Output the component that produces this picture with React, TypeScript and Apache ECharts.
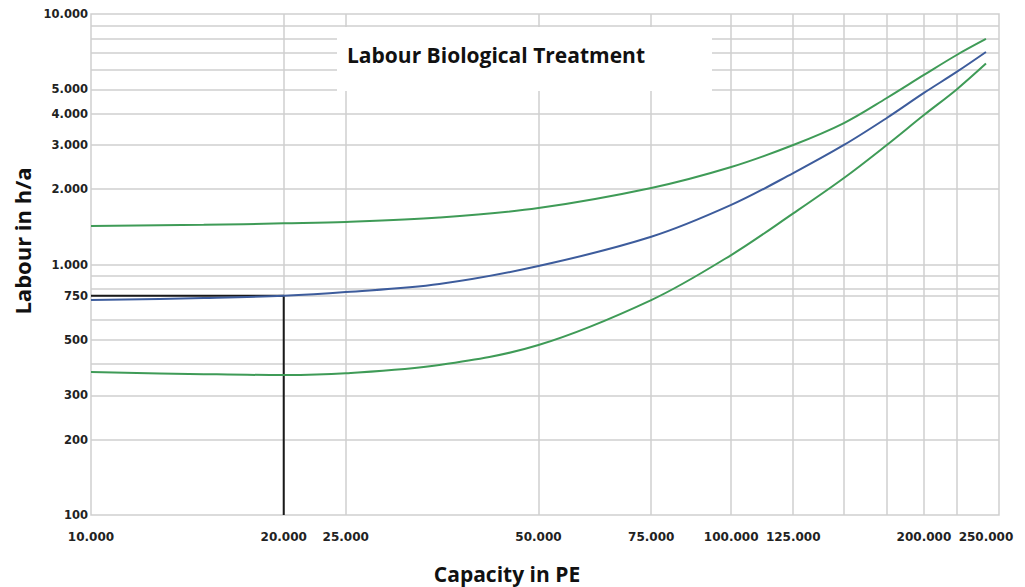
import React, { useEffect, useRef } from 'react';
import * as echarts from 'echarts';

// Capacity in PE (x) and labour in h/a (y)
const capacity = [10000, 15000, 20000, 25000, 35000, 50000, 75000, 100000, 125000, 150000, 175000, 200000, 225000, 250000];
const labourMean = [721, 735, 750, 776, 836, 986, 1290, 1729, 2317, 3000, 3845, 4840, 5870, 7050];
const labourUpper = [1425, 1440, 1460, 1478, 1540, 1680, 2020, 2450, 3000, 3670, 4620, 5710, 6860, 7950];
const labourLower = [372, 365, 362, 368, 397, 477, 721, 1091, 1600, 2215, 3000, 3950, 5000, 6340];

// Reading example: 20.000 PE -> 750 h/a
const refCapacity = 20000;
const refLabour = 750;

// Axis ranges
const xMin = 10000;
const xMax = 262000;
const yMin = 100;
const yMax = 10000;

// Grid lines and tick labels
const xGridValues = [20000, 25000, 50000, 75000, 100000, 125000, 150000, 175000, 200000, 225000];
const xTickLabels = [10000, 20000, 25000, 50000, 75000, 100000, 125000, 200000, 250000];
const yGridValues = [200, 300, 400, 500, 600, 750, 800, 900, 1000, 2000, 3000, 4000, 5000, 6000, 7000, 8000, 9000];
const yTickLabels = [100, 200, 300, 500, 750, 1000, 2000, 3000, 4000, 5000, 10000];

const titleText = 'Labour Biological Treatment';
const xName = 'Capacity in PE';
const yName = 'Labour in h/a';

const fmt = (v: number) => String(Math.round(v)).replace(/\B(?=(\d{3})+(?!\d))/g, '.');

const GRID_COLOR = '#cfcfcf';
const LABEL_FONT = '"DejaVu Sans", Verdana, sans-serif';
const TITLE_FONT = '"Open Sans", "Noto Sans", sans-serif';

export default function App() {
  const ref = useRef<HTMLDivElement>(null);

  useEffect(() => {
    if (!ref.current) return;
    const chart = echarts.init(ref.current, undefined, { renderer: 'svg' });

    const xValues = Array.from(new Set([...xGridValues, ...xTickLabels])).sort((a, b) => a - b);
    const xMarks = xValues.map((v) => ({
      xAxis: v,
      lineStyle: { color: xGridValues.includes(v) ? GRID_COLOR : 'rgba(0,0,0,0)' },
      label: { show: xTickLabels.includes(v) },
    }));
    const yValues = Array.from(new Set([...yGridValues, ...yTickLabels])).sort((a, b) => a - b);
    const yMarks = yValues.map((v) => ({
      yAxis: v,
      lineStyle: { color: yGridValues.includes(v) ? GRID_COLOR : 'rgba(0,0,0,0)' },
      label: { show: yTickLabels.includes(v) },
    }));

    const zip = (ys: number[]) => capacity.map((c, i) => [c, ys[i]]);

    const curve = (name: string, ys: number[], color: string) => ({
      name,
      type: 'line',
      data: zip(ys),
      smooth: 0.35,
      showSymbol: false,
      symbol: 'none',
      z: 10,
      lineStyle: { color, width: 2 },
      itemStyle: { color },
    });

    chart.setOption({
      animation: false,
      backgroundColor: '#ffffff',
      grid: {
        left: 91,
        right: 26,
        top: 14,
        bottom: 72,
        show: true,
        borderColor: GRID_COLOR,
        borderWidth: 1.5,
        backgroundColor: 'transparent',
      },
      xAxis: {
        type: 'log',
        logBase: 10,
        min: xMin,
        max: xMax,
        axisLine: { show: false },
        axisTick: { show: false },
        axisLabel: { show: false },
        splitLine: { show: false },
      },
      yAxis: {
        type: 'log',
        logBase: 10,
        min: yMin,
        max: yMax,
        axisLine: { show: false },
        axisTick: { show: false },
        axisLabel: { show: false },
        splitLine: { show: false },
      },
      graphic: [
        {
          type: 'rect',
          z: 50,
          shape: { x: 337, y: 27, width: 375, height: 64 },
          style: { fill: '#ffffff' },
        },
        {
          type: 'text',
          z: 51,
          x: 496,
          y: 55,
          style: {
            text: titleText,
            fill: '#111111',
            fontFamily: TITLE_FONT,
            fontWeight: 'bold',
            fontSize: 21,
            align: 'center',
            verticalAlign: 'middle',
          },
        },
        {
          type: 'text',
          z: 51,
          x: 22,
          y: 241,
          rotation: Math.PI / 2,
          style: {
            text: yName,
            fill: '#111111',
            fontFamily: TITLE_FONT,
            fontWeight: 'bold',
            fontSize: 22,
            align: 'center',
            verticalAlign: 'middle',
          },
        },
        {
          type: 'text',
          z: 51,
          x: 507,
          y: 574,
          style: {
            text: xName,
            fill: '#111111',
            fontFamily: TITLE_FONT,
            fontWeight: 'bold',
            fontSize: 21,
            align: 'center',
            verticalAlign: 'middle',
          },
        },
      ],
      series: [
        {
          name: 'xgrid',
          type: 'line',
          data: [],
          z: 1,
          silent: true,
          markLine: {
            silent: true,
            z: 1,
            symbol: ['none', 'none'],
            animation: false,
            lineStyle: { color: GRID_COLOR, width: 1.5, type: 'solid' },
            label: {
              position: 'start',
              distance: 16,
              formatter: (p: any) => fmt(p.value),
              color: '#222222',
              fontFamily: LABEL_FONT,
              fontWeight: 'bold',
              fontSize: 12,
            },
            data: xMarks,
          },
        },
        {
          name: 'ygrid',
          type: 'line',
          data: [],
          z: 1,
          silent: true,
          markLine: {
            silent: true,
            z: 1,
            symbol: ['none', 'none'],
            animation: false,
            lineStyle: { color: GRID_COLOR, width: 1.5, type: 'solid' },
            label: {
              position: 'start',
              distance: 3,
              formatter: (p: any) => fmt(p.value),
              color: '#222222',
              fontFamily: LABEL_FONT,
              fontWeight: 'bold',
              fontSize: 11.5,
            },
            data: yMarks,
          },
        },
        curve('Upper', labourUpper, '#3f9b57'),
        curve('Mean', labourMean, '#3d5c9c'),
        curve('Lower', labourLower, '#3f9b57'),
        {
          name: 'Reading',
          type: 'line',
          data: [
            [xMin, refLabour],
            [refCapacity, refLabour],
            [refCapacity, yMin],
          ],
          showSymbol: false,
          symbol: 'none',
          z: 9,
          lineStyle: { color: '#1a1a1a', width: 2 },
        },
      ],
    });

    return () => chart.dispose();
  }, []);

  return (
    <div
      ref={ref}
      style={{ position: 'fixed', left: 0, top: 0, width: 1025, height: 587, background: '#fff' }}
    />
  );
}
